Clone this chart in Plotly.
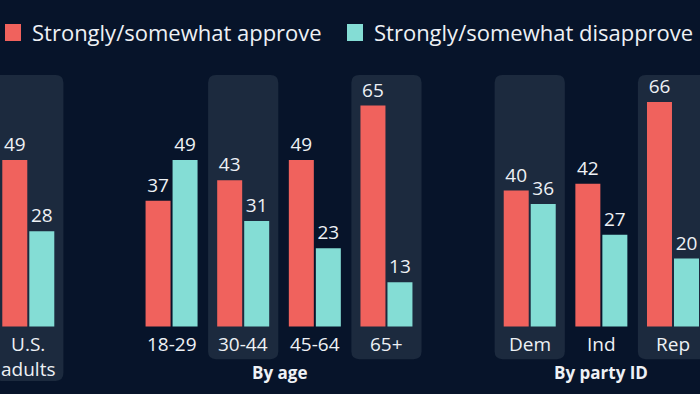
import plotly.graph_objects as go

# ---- data ----
categories = ["U.S.<br>adults", "18-29", "30-44", "45-64", "65+", "Dem", "Ind", "Rep"]
slots = [0, 2, 3, 4, 5, 7, 8, 9]
approve = [49, 37, 43, 49, 65, 40, 42, 66]
disapprove = [28, 49, 31, 23, 13, 36, 27, 20]
shaded = [True, False, True, False, True, True, False, True]
group_names = ["By age", "By party ID"]
group_centers = [3.5, 8]
series_names = ["Strongly/somewhat approve", "Strongly/somewhat disapprove"]

# ---- style ----
BG = "#07142a"
PANEL = "#1c2a3e"
RED = "#f0625d"
TEAL = "#84ddd5"
TXT = "#eef1f5"
FONT = "Open Sans"
W, H = 700, 394

fig = go.Figure()

bw = 0.349
fig.add_trace(go.Bar(
    x=slots, y=approve, name=series_names[0], marker_color=RED, marker_line_width=0,
    width=bw, offset=-0.363, text=approve, textposition="outside", cliponaxis=False,
    constraintext="none", textfont=dict(family=FONT, size=19, color=TXT)))
fig.add_trace(go.Bar(
    x=slots, y=disapprove, name=series_names[1], marker_color=TEAL, marker_line_width=0,
    width=bw, offset=0.014, text=disapprove, textposition="outside", cliponaxis=False,
    constraintext="none", textfont=dict(family=FONT, size=19, color=TXT)))

# ---- shaded rounded panels ----
def rounded(x0, x1, y0, y1, rx, ry):
    return (f"M{x0+rx},{y1} L{x1-rx},{y1} Q{x1},{y1} {x1},{y1-ry} "
            f"L{x1},{y0+ry} Q{x1},{y0} {x1-rx},{y0} L{x0+rx},{y0} "
            f"Q{x0},{y0} {x0},{y0+ry} L{x0},{y1-ry} Q{x0},{y1} {x0+rx},{y1} Z")

shapes = []
for s, c, sh in zip(slots, categories, shaded):
    if not sh:
        continue
    bottom = -16.0 if "<br>" in c else -9.6
    shapes.append(dict(type="path", xref="x", yref="y",
                       path=rounded(s - 0.49, s + 0.49, bottom, 74, 0.11, 2.3),
                       fillcolor=PANEL, line_width=0, layer="below"))

annotations = []
for s, c in zip(slots, categories):
    annotations.append(dict(x=s, y=-0.6, xref="x", yref="y", text=c, showarrow=False,
                            yanchor="top", xanchor="center",
                            font=dict(family=FONT, size=19, color=TXT)))
for gx, gn in zip(group_centers, group_names):
    annotations.append(dict(x=gx, y=1 - 372 / H, xref="x", yref="paper", text=f"<b>{gn}</b>",
                            showarrow=False, yanchor="middle", xanchor="center",
                            font=dict(family=FONT, size=17, color=TXT)))

# ---- manual legend ----
leg = [(5, 30, RED, series_names[0]), (347, 372, TEAL, series_names[1])]
for sx, tx, col, name in leg:
    shapes.append(dict(type="rect", xref="paper", yref="paper",
                       x0=sx / W, x1=(sx + 16) / W, y0=1 - 41 / H, y1=1 - 24 / H,
                       fillcolor=col, line_width=0))
    annotations.append(dict(x=tx / W, y=1 - 32 / H, xref="paper", yref="paper", text=name,
                            showarrow=False, xanchor="left", yanchor="middle",
                            font=dict(family=FONT, size=22, color=TXT)))

fig.update_layout(
    width=W, height=H, margin=dict(l=0, r=0, t=0, b=0),
    paper_bgcolor=BG, plot_bgcolor=BG, showlegend=False, barmode="group",
    shapes=shapes, annotations=annotations,
    xaxis=dict(range=[-0.395, 9.377], visible=False, fixedrange=True),
    yaxis=dict(range=[-19.85, 96.03], visible=False, fixedrange=True),
    font=dict(family=FONT, color=TXT),
)

fig.write_html("out.html", config={"displayModeBar": False},
               post_script="document.body.style.margin='0';document.body.style.background='%s';" % BG)
